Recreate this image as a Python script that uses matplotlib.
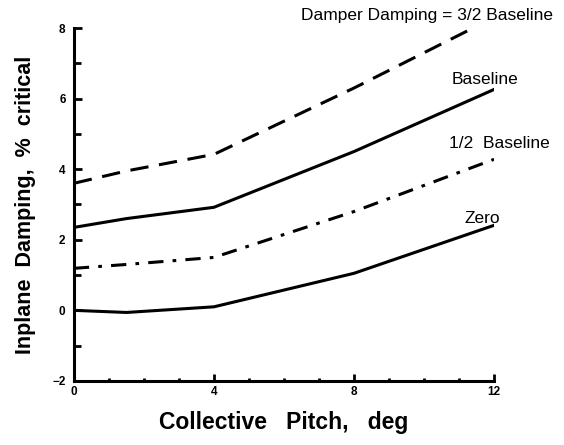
import matplotlib.pyplot as plt
from matplotlib.ticker import MultipleLocator

plt.rcParams['font.family'] = ['Liberation Sans', 'DejaVu Sans']

# collective pitch (deg) and inplane damping (% critical) per damper setting
pitch = [0, 1.5, 4, 8, 12]
damp_3_2 = [3.6, 3.95, 4.42, 6.3, 8.3]
damp_base = [2.35, 2.6, 2.92, 4.5, 6.26]
damp_half = [1.19, 1.3, 1.5, 2.8, 4.28]
damp_zero = [0.0, -0.06, 0.1, 1.05, 2.41]

fig = plt.figure(figsize=(5.64, 4.45), dpi=100)
ax = fig.add_axes([0.131, 0.144, 0.745, 0.793])

lw = 2.2
ax.plot(pitch, damp_3_2, color='black', lw=lw, dashes=(6, 3.5))
ax.plot(pitch, damp_base, color='black', lw=lw)
ax.plot(pitch, damp_half, color='black', lw=lw, dashes=(5, 3, 1.2, 3))
ax.plot(pitch, damp_zero, color='black', lw=lw)

ax.set_xlim(0, 12)
ax.set_ylim(-2, 8)
ax.xaxis.set_major_locator(MultipleLocator(4))
ax.xaxis.set_minor_locator(MultipleLocator(1))
ax.yaxis.set_major_locator(MultipleLocator(2))
ax.yaxis.set_minor_locator(MultipleLocator(1))

for side in ['top', 'right']:
    ax.spines[side].set_visible(False)
for side in ['left', 'bottom']:
    ax.spines[side].set_linewidth(2.2)

ax.tick_params(axis='both', which='major', direction='in', width=2, labelsize=8.5)
ax.tick_params(axis='y', which='major', length=6, pad=6)
ax.tick_params(axis='y', which='minor', direction='in', length=5, width=2)
ax.tick_params(axis='x', which='major', length=5, pad=4)
ax.tick_params(axis='x', which='minor', direction='in', length=2.5, width=2)
for lab in ax.get_xticklabels() + ax.get_yticklabels():
    lab.set_fontweight('bold')

ax.set_xlabel('Collective   Pitch,   deg', fontsize=16.5, fontweight='bold', labelpad=9)
ax.set_ylabel('Inplane  Damping,  %  critical', fontsize=15.5, fontweight='bold', labelpad=12)

ax.text(13.69, 8.36, 'Damper Damping = 3/2 Baseline', fontsize=12.5, ha='right', va='center',
        clip_on=False)
ax.text(11.75, 6.54, 'Baseline', fontsize=12.5, ha='center', va='center')
ax.text(12.14, 4.73, '1/2  Baseline', fontsize=12.5, ha='center', va='center', clip_on=False)
ax.text(11.66, 2.6, 'Zero', fontsize=12.5, ha='center', va='center')

fig.savefig('out.png', dpi=100)
